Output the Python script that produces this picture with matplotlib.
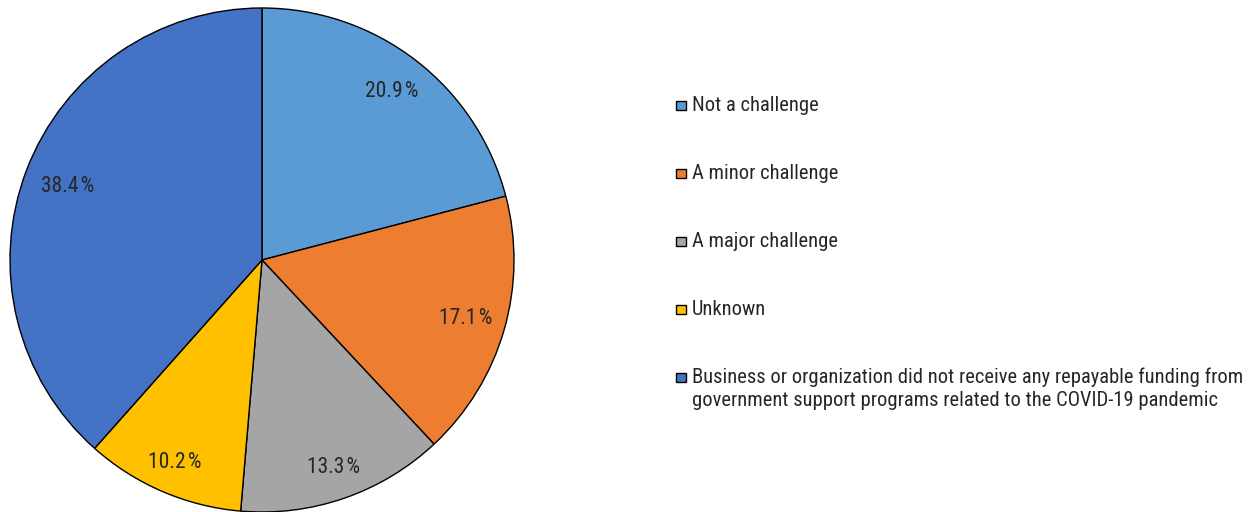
import matplotlib
matplotlib.use("Agg")
import matplotlib.pyplot as plt
import numpy as np
from matplotlib.patches import Rectangle

categories = ["Not a challenge", "A minor challenge", "A major challenge", "Unknown",
              "Business or organization did not receive any repayable funding from\ngovernment support programs related to the COVID-19 pandemic"]
values = [20.9, 17.1, 13.3, 10.2, 38.4]
colors = ["#5B9BD5", "#ED7D31", "#A5A5A5", "#FFC000", "#4472C4"]
label_dist = [0.845, 0.84, 0.87, 0.875, 0.825]

plt.rcParams['font.family'] = ['Roboto Condensed', 'Fira Sans Condensed', 'DejaVu Sans']
txt = "#262626"

W, H = 1252, 512
fig = plt.figure(figsize=(W/100, H/100), dpi=100)
cx, cy, r = 262, 260, 252
ax = fig.add_axes([(cx - r)/W, (H - cy - r)/H, 2*r/W, 2*r/H])
wedges, texts = ax.pie(values, colors=colors, startangle=90, counterclock=False,
                       wedgeprops=dict(edgecolor="black", linewidth=1.0))
for w, v, d in zip(wedges, values, label_dist):
    ang = np.deg2rad((w.theta1 + w.theta2) / 2)
    ax.text(d*np.cos(ang), d*np.sin(ang), f"{v:.1f}\u200a%", ha="center", va="center",
            fontsize=15.5, color=txt)
ax.set_xlim(-1, 1)
ax.set_ylim(-1, 1)
ax.set_aspect("equal")
ax.axis("off")

# legend (figure pixel coordinates, origin top-left)
def fx(px): return px / W
def fy(py): return 1 - py / H

base0, step, line2 = 111, 68, 22.5
for i, (lab, c) in enumerate(zip(categories, colors)):
    b = base0 + step*i
    fig.patches.append(Rectangle((fx(676), fy(b - 1)), 10/W, 9/H, transform=fig.transFigure,
                                 facecolor=c, edgecolor="black", linewidth=1.0))
    for j, line in enumerate(lab.split("\n")):
        fig.text(fx(692), fy(b + j*line2), line, ha="left", va="baseline",
                 fontsize=14.8, color=txt)

fig.savefig("out.png", dpi=100)
